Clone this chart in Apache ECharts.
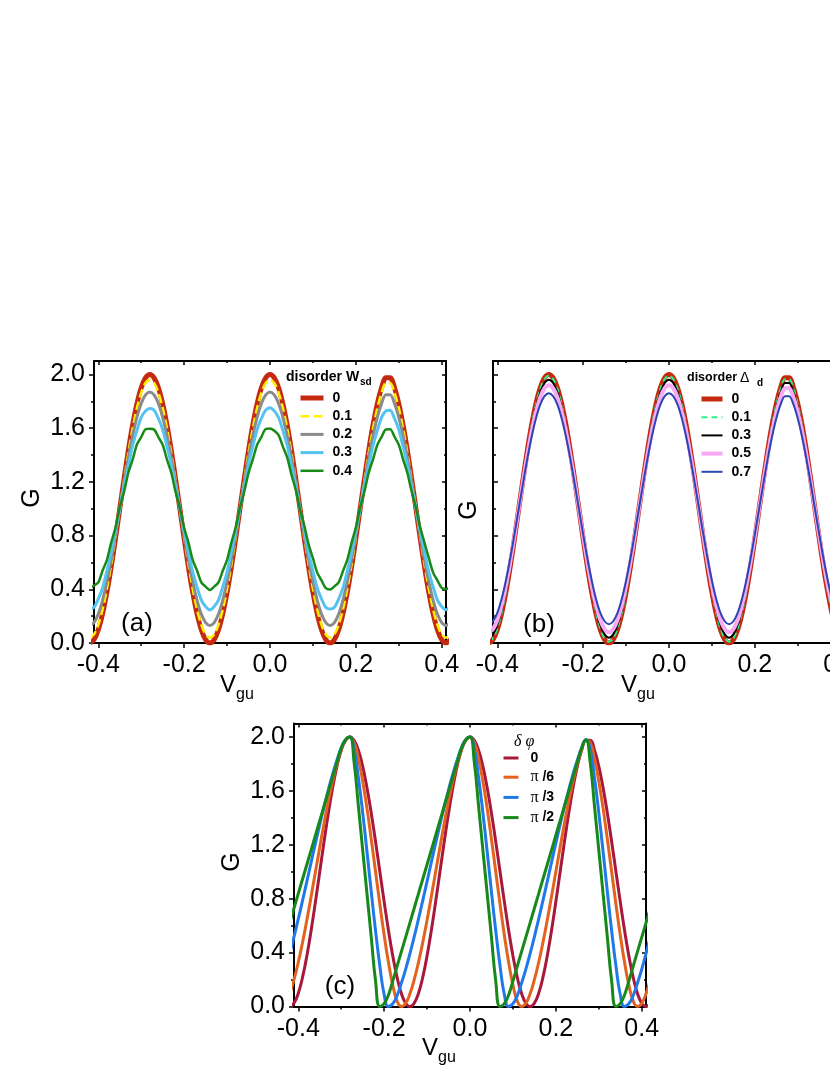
<!DOCTYPE html>
<html>
<head>
<meta charset="utf-8">
<script src="https://cdn.jsdelivr.net/npm/echarts@6/dist/echarts.min.js"></script>
<style>
  html, body { margin: 0; padding: 0; overflow: hidden; background: #fff; }
  #chart { width: 870px; height: 1075px; }
</style>
</head>
<body>
<div id="chart"></div>
<script>
  // gate voltage grid shared by every curve
  const vgu = [
    -0.42, -0.41, -0.4, -0.39, -0.38, -0.37, -0.36, -0.35, -0.34, -0.33, -0.32, -0.31, -0.3, -0.29,
    -0.28, -0.27, -0.26, -0.25, -0.24, -0.23, -0.22, -0.21, -0.2, -0.19, -0.18, -0.17, -0.16, -0.15,
    -0.14, -0.13, -0.12, -0.11, -0.1, -0.09, -0.08, -0.07, -0.06, -0.05, -0.04, -0.03, -0.02, -0.01,
    0, 0.01, 0.02, 0.03, 0.04, 0.05, 0.06, 0.07, 0.08, 0.09, 0.1, 0.11, 0.12, 0.13,
    0.14, 0.15, 0.16, 0.17, 0.18, 0.19, 0.2, 0.21, 0.22, 0.23, 0.24, 0.25, 0.26, 0.27,
    0.28, 0.29, 0.3, 0.31, 0.32, 0.33, 0.34, 0.35, 0.36, 0.37, 0.38, 0.39, 0.4, 0.41, 0.42
  ];

  const xMajor = [-0.4, -0.2, 0, 0.2, 0.4];
  const xMinor = [-0.3, -0.1, 0.1, 0.3];
  const yMajor = [0, 0.4, 0.8, 1.2, 1.6, 2.0];
  const yMinor = [0.2, 0.6, 1.0, 1.4, 1.8];

  // (a) disorder W_sd
  const namesA = ["0", "0.1", "0.2", "0.3", "0.4"];
  const gA0 = [
    0, 0.025, 0.099, 0.218, 0.377, 0.566, 0.778, 1, 1.222, 1.434, 1.623, 1.782, 1.901, 1.975,
    2, 1.975, 1.901, 1.782, 1.623, 1.434, 1.222, 1, 0.778, 0.566, 0.377, 0.218, 0.099, 0.025,
    0, 0.025, 0.099, 0.218, 0.377, 0.566, 0.778, 1, 1.222, 1.434, 1.623, 1.782, 1.901, 1.975,
    2, 1.975, 1.901, 1.782, 1.623, 1.434, 1.222, 1, 0.778, 0.566, 0.377, 0.218, 0.099, 0.025,
    0, 0.025, 0.099, 0.218, 0.377, 0.566, 0.778, 1, 1.222, 1.434, 1.623, 1.782, 1.901, 1.975,
    1.975, 1.901, 1.782, 1.623, 1.434, 1.222, 1, 0.778, 0.566, 0.377, 0.218, 0.099, 0.025, 0, 0.025
  ];
  const gA1 = [
    0.04, 0.064, 0.135, 0.249, 0.401, 0.583, 0.786, 1, 1.214, 1.417, 1.599, 1.751, 1.865, 1.936,
    1.96, 1.936, 1.865, 1.751, 1.599, 1.417, 1.214, 1, 0.786, 0.583, 0.401, 0.249, 0.135, 0.064,
    0.04, 0.064, 0.135, 0.249, 0.401, 0.583, 0.786, 1, 1.214, 1.417, 1.599, 1.751, 1.865, 1.936,
    1.96, 1.936, 1.865, 1.751, 1.599, 1.417, 1.214, 1, 0.786, 0.583, 0.401, 0.249, 0.135, 0.064,
    0.04, 0.064, 0.135, 0.249, 0.401, 0.583, 0.786, 1, 1.214, 1.417, 1.599, 1.751, 1.865, 1.936,
    1.936, 1.865, 1.751, 1.599, 1.417, 1.214, 1, 0.786, 0.583, 0.401, 0.249, 0.135, 0.064, 0.04, 0.064
  ];
  const gA2 = [
    0.13, 0.152, 0.216, 0.32, 0.458, 0.622, 0.806, 1, 1.194, 1.378, 1.542, 1.68, 1.784, 1.848,
    1.87, 1.848, 1.784, 1.68, 1.542, 1.378, 1.194, 1, 0.806, 0.622, 0.458, 0.32, 0.216, 0.152,
    0.13, 0.152, 0.216, 0.32, 0.458, 0.622, 0.806, 1, 1.194, 1.378, 1.542, 1.68, 1.784, 1.848,
    1.87, 1.848, 1.784, 1.68, 1.542, 1.378, 1.194, 1, 0.806, 0.622, 0.458, 0.32, 0.216, 0.152,
    0.13, 0.152, 0.216, 0.32, 0.458, 0.622, 0.806, 1, 1.194, 1.378, 1.542, 1.68, 1.784, 1.848,
    1.848, 1.784, 1.68, 1.542, 1.378, 1.194, 1, 0.806, 0.622, 0.458, 0.32, 0.216, 0.152, 0.13, 0.152
  ];
  const gA3 = [
    0.252, 0.266, 0.328, 0.41, 0.536, 0.67, 0.838, 0.996, 1.172, 1.32, 1.472, 1.582, 1.68, 1.728,
    1.746, 1.734, 1.672, 1.59, 1.464, 1.329, 1.163, 1.004, 0.829, 0.679, 0.528, 0.418, 0.32, 0.272,
    0.247, 0.272, 0.32, 0.418, 0.528, 0.679, 0.829, 1.004, 1.163, 1.329, 1.464, 1.59, 1.672, 1.734,
    1.752, 1.728, 1.68, 1.582, 1.472, 1.321, 1.171, 0.996, 0.837, 0.671, 0.536, 0.41, 0.328, 0.266,
    0.253, 0.266, 0.328, 0.41, 0.536, 0.671, 0.837, 0.996, 1.171, 1.321, 1.472, 1.582, 1.68, 1.728,
    1.734, 1.672, 1.59, 1.464, 1.329, 1.163, 1.004, 0.829, 0.679, 0.528, 0.418, 0.32, 0.272, 0.247, 0.272
  ];
  const gA4 = [
    0.405, 0.428, 0.452, 0.54, 0.618, 0.748, 0.858, 1.01, 1.126, 1.268, 1.366, 1.478, 1.533, 1.592,
    1.596, 1.59, 1.533, 1.476, 1.366, 1.268, 1.126, 1.008, 0.858, 0.748, 0.618, 0.54, 0.452, 0.42,
    0.395, 0.42, 0.452, 0.538, 0.62, 0.748, 0.86, 1.008, 1.128, 1.266, 1.368, 1.476, 1.535, 1.594,
    1.598, 1.58, 1.548, 1.462, 1.382, 1.254, 1.14, 0.994, 0.872, 0.734, 0.632, 0.524, 0.466, 0.408,
    0.398, 0.422, 0.452, 0.536, 0.62, 0.746, 0.86, 1.006, 1.128, 1.268, 1.368, 1.474, 1.535, 1.59,
    1.592, 1.536, 1.476, 1.368, 1.266, 1.128, 1.006, 0.86, 0.746, 0.632, 0.524, 0.466, 0.41, 0.402, 0.418
  ];

  // (b) disorder Delta_d
  const namesB = ["0", "0.1", "0.3", "0.5", "0.7"];
  const gB0 = [
    0, 0.025, 0.099, 0.218, 0.377, 0.566, 0.778, 1, 1.222, 1.434, 1.623, 1.782, 1.901, 1.975,
    2, 1.975, 1.901, 1.782, 1.623, 1.434, 1.222, 1, 0.778, 0.566, 0.377, 0.218, 0.099, 0.025,
    0, 0.025, 0.099, 0.218, 0.377, 0.566, 0.778, 1, 1.222, 1.434, 1.623, 1.782, 1.901, 1.975,
    2, 1.975, 1.901, 1.782, 1.623, 1.434, 1.222, 1, 0.778, 0.566, 0.377, 0.218, 0.099, 0.025,
    0, 0.025, 0.099, 0.218, 0.377, 0.566, 0.778, 1, 1.222, 1.434, 1.623, 1.782, 1.901, 1.975,
    1.975, 1.901, 1.782, 1.623, 1.434, 1.222, 1, 0.778, 0.566, 0.377, 0.218, 0.099, 0.025, 0, 0.025
  ];
  const gB1 = [
    0.01, 0.035, 0.108, 0.226, 0.383, 0.57, 0.78, 1, 1.22, 1.43, 1.617, 1.774, 1.892, 1.965,
    1.99, 1.965, 1.892, 1.774, 1.617, 1.43, 1.22, 1, 0.78, 0.57, 0.383, 0.226, 0.108, 0.035,
    0.01, 0.035, 0.108, 0.226, 0.383, 0.57, 0.78, 1, 1.22, 1.43, 1.617, 1.774, 1.892, 1.965,
    1.99, 1.965, 1.892, 1.774, 1.617, 1.43, 1.22, 1, 0.78, 0.57, 0.383, 0.226, 0.108, 0.035,
    0.01, 0.035, 0.108, 0.226, 0.383, 0.57, 0.78, 1, 1.22, 1.43, 1.617, 1.774, 1.892, 1.965,
    1.965, 1.892, 1.774, 1.617, 1.43, 1.22, 1, 0.78, 0.57, 0.383, 0.226, 0.108, 0.035, 0.01, 0.035
  ];
  const gB2 = [
    0.04, 0.064, 0.135, 0.249, 0.401, 0.583, 0.786, 1, 1.214, 1.417, 1.599, 1.751, 1.865, 1.936,
    1.96, 1.936, 1.865, 1.751, 1.599, 1.417, 1.214, 1, 0.786, 0.583, 0.401, 0.249, 0.135, 0.064,
    0.04, 0.064, 0.135, 0.249, 0.401, 0.583, 0.786, 1, 1.214, 1.417, 1.599, 1.751, 1.865, 1.936,
    1.96, 1.936, 1.865, 1.751, 1.599, 1.417, 1.214, 1, 0.786, 0.583, 0.401, 0.249, 0.135, 0.064,
    0.04, 0.064, 0.135, 0.249, 0.401, 0.583, 0.786, 1, 1.214, 1.417, 1.599, 1.751, 1.865, 1.936,
    1.936, 1.865, 1.751, 1.599, 1.417, 1.214, 1, 0.786, 0.583, 0.401, 0.249, 0.135, 0.064, 0.04, 0.064
  ];
  const gB3 = [
    0.08, 0.103, 0.171, 0.281, 0.426, 0.601, 0.795, 1, 1.205, 1.399, 1.574, 1.719, 1.829, 1.897,
    1.92, 1.897, 1.829, 1.719, 1.574, 1.399, 1.205, 1, 0.795, 0.601, 0.426, 0.281, 0.171, 0.103,
    0.08, 0.103, 0.171, 0.281, 0.426, 0.601, 0.795, 1, 1.205, 1.399, 1.574, 1.719, 1.829, 1.897,
    1.92, 1.897, 1.829, 1.719, 1.574, 1.399, 1.205, 1, 0.795, 0.601, 0.426, 0.281, 0.171, 0.103,
    0.08, 0.103, 0.171, 0.281, 0.426, 0.601, 0.795, 1, 1.205, 1.399, 1.574, 1.719, 1.829, 1.897,
    1.897, 1.829, 1.719, 1.574, 1.399, 1.205, 1, 0.795, 0.601, 0.426, 0.281, 0.171, 0.103, 0.08, 0.103
  ];
  const gB4 = [
    0.14, 0.162, 0.225, 0.328, 0.464, 0.627, 0.809, 1, 1.191, 1.373, 1.536, 1.672, 1.775, 1.838,
    1.86, 1.838, 1.775, 1.672, 1.536, 1.373, 1.191, 1, 0.809, 0.627, 0.464, 0.328, 0.225, 0.162,
    0.14, 0.162, 0.225, 0.328, 0.464, 0.627, 0.809, 1, 1.191, 1.373, 1.536, 1.672, 1.775, 1.838,
    1.86, 1.838, 1.775, 1.672, 1.536, 1.373, 1.191, 1, 0.809, 0.627, 0.464, 0.328, 0.225, 0.162,
    0.14, 0.162, 0.225, 0.328, 0.464, 0.627, 0.809, 1, 1.191, 1.373, 1.536, 1.672, 1.775, 1.838,
    1.838, 1.775, 1.672, 1.536, 1.373, 1.191, 1, 0.809, 0.627, 0.464, 0.328, 0.225, 0.162, 0.14, 0.162
  ];

  // (c) phase difference delta phi
  const namesC = ["0", "π /6", "π /3", "π /2"];
  const gC0 = [
    0, 0.025, 0.099, 0.218, 0.377, 0.566, 0.778, 1, 1.222, 1.434, 1.623, 1.782, 1.901, 1.975,
    2, 1.975, 1.901, 1.782, 1.623, 1.434, 1.222, 1, 0.778, 0.566, 0.377, 0.218, 0.099, 0.025,
    0, 0.025, 0.099, 0.218, 0.377, 0.566, 0.778, 1, 1.222, 1.434, 1.623, 1.782, 1.901, 1.975,
    2, 1.975, 1.901, 1.782, 1.623, 1.434, 1.222, 1, 0.778, 0.566, 0.377, 0.218, 0.099, 0.025,
    0, 0.025, 0.099, 0.218, 0.377, 0.566, 0.778, 1, 1.222, 1.434, 1.623, 1.782, 1.901, 1.975,
    1.975, 1.901, 1.782, 1.623, 1.434, 1.222, 1, 0.778, 0.566, 0.377, 0.218, 0.099, 0.025, 0, 0.025
  ];
  const gC1 = [
    0.094, 0.199, 0.328, 0.477, 0.642, 0.818, 1, 1.182, 1.358, 1.523, 1.672, 1.801, 1.906, 1.976,
    2, 1.958, 1.839, 1.672, 1.47, 1.241, 1, 0.759, 0.53, 0.328, 0.161, 0.042, 0, 0.024,
    0.094, 0.199, 0.328, 0.477, 0.642, 0.818, 1, 1.182, 1.358, 1.523, 1.672, 1.801, 1.906, 1.976,
    2, 1.958, 1.839, 1.672, 1.47, 1.241, 1, 0.759, 0.53, 0.328, 0.161, 0.042, 0, 0.024,
    0.094, 0.199, 0.328, 0.477, 0.642, 0.818, 1, 1.182, 1.358, 1.523, 1.672, 1.801, 1.906, 1.976,
    1.958, 1.839, 1.672, 1.47, 1.241, 1, 0.759, 0.53, 0.328, 0.161, 0.042, 0, 0.024, 0.094, 0.199
  ];
  const gC2 = [
    0.392, 0.517, 0.65, 0.788, 0.929, 1.071, 1.212, 1.35, 1.483, 1.608, 1.724, 1.828, 1.92, 1.98,
    2, 1.911, 1.699, 1.439, 1.15, 0.85, 0.561, 0.301, 0.089, 0, 0.02, 0.08, 0.172, 0.276,
    0.392, 0.517, 0.65, 0.788, 0.929, 1.071, 1.212, 1.35, 1.483, 1.608, 1.724, 1.828, 1.92, 1.98,
    2, 1.911, 1.699, 1.439, 1.15, 0.85, 0.561, 0.301, 0.089, 0, 0.02, 0.08, 0.172, 0.276,
    0.392, 0.517, 0.65, 0.788, 0.929, 1.071, 1.212, 1.35, 1.483, 1.608, 1.724, 1.828, 1.92, 1.98,
    1.911, 1.699, 1.439, 1.15, 0.85, 0.561, 0.301, 0.089, 0, 0.02, 0.08, 0.172, 0.276, 0.392, 0.517
  ];
  const gC3 = [
    0.621, 0.729, 0.838, 0.946, 1.054, 1.162, 1.271, 1.379, 1.487, 1.595, 1.703, 1.812, 1.914, 1.979,
    2, 1.812, 1.487, 1.162, 0.838, 0.513, 0.188, 0, 0.021, 0.086, 0.188, 0.297, 0.405, 0.513,
    0.621, 0.729, 0.838, 0.946, 1.054, 1.162, 1.271, 1.379, 1.487, 1.595, 1.703, 1.812, 1.914, 1.979,
    2, 1.812, 1.487, 1.162, 0.838, 0.513, 0.188, 0, 0.021, 0.086, 0.188, 0.297, 0.405, 0.513,
    0.621, 0.729, 0.838, 0.946, 1.054, 1.162, 1.271, 1.379, 1.487, 1.595, 1.703, 1.812, 1.914, 1.979,
    1.812, 1.487, 1.162, 0.838, 0.513, 0.188, 0, 0.021, 0.086, 0.188, 0.297, 0.405, 0.513, 0.621, 0.729
  ];

  const FONT = "'Liberation Sans', Arial, sans-serif";
  const SERIF = "'Liberation Serif', 'Times New Roman', serif";
  const BLACK = "#000";

  const grids = [
    { left: 94, top: 361, width: 352, height: 282 },
    { left: 493, top: 361, width: 352, height: 282 },
    { left: 294, top: 723.5, width: 352, height: 283 },
  ];

  const tickStyle = { color: BLACK, width: 1.5 };
  const frameLine = { show: true, onZero: false, lineStyle: { color: BLACK, width: 2 } };
  const noLine = { show: false, onZero: false };
  const labelStyle = { color: BLACK, fontSize: 25, fontFamily: FONT, formatter: (v) => v.toFixed(1) };

  // four x axes per grid: bottom major/minor (outward), top major/minor (inward)
  function makeXAxes(g) {
    const base = { type: "value", gridIndex: g, min: -0.41, max: 0.41, splitLine: { show: false } };
    return [
      { ...base, position: "bottom", axisLine: frameLine,
        axisTick: { customValues: xMajor, length: 5, lineStyle: tickStyle },
        axisLabel: { ...labelStyle, customValues: xMajor, margin: 10 } },
      { ...base, position: "bottom", axisLine: noLine,
        axisTick: { customValues: xMinor, length: 3, lineStyle: tickStyle }, axisLabel: { show: false } },
      { ...base, position: "top", axisLine: frameLine,
        axisTick: { customValues: xMajor, inside: true, length: 4, lineStyle: tickStyle }, axisLabel: { show: false } },
      { ...base, position: "top", axisLine: noLine,
        axisTick: { customValues: xMinor, inside: true, length: 2, lineStyle: tickStyle }, axisLabel: { show: false } },
    ];
  }

  function makeYAxes(g, withLabels) {
    const base = { type: "value", gridIndex: g, min: 0, max: 2.1, splitLine: { show: false } };
    return [
      { ...base, position: "left", axisLine: frameLine,
        axisTick: { customValues: yMajor, length: 5, inside: !withLabels, lineStyle: tickStyle },
        axisLabel: withLabels ? { ...labelStyle, customValues: yMajor, margin: 9 } : { show: false } },
      { ...base, position: "left", axisLine: noLine,
        axisTick: { customValues: yMinor, length: 3, inside: !withLabels, lineStyle: tickStyle }, axisLabel: { show: false } },
      { ...base, position: "right", axisLine: frameLine,
        axisTick: { customValues: yMajor, inside: true, length: 4, lineStyle: tickStyle }, axisLabel: { show: false } },
      { ...base, position: "right", axisLine: noLine,
        axisTick: { customValues: yMinor, inside: true, length: 2, lineStyle: tickStyle }, axisLabel: { show: false } },
    ];
  }

  function curve(id, g, ys, color, width, dash) {
    return {
      id,
      name: id,
      type: "line",
      xAxisIndex: g * 4,
      yAxisIndex: g * 4,
      data: vgu.map((x, i) => [x, ys[i]]),
      symbol: "none",
      smooth: g === 2 ? 0.5 : 0.3,
      silent: true,
      lineStyle: { color, width, type: dash || "solid" },
      itemStyle: { color },
    };
  }

  const series = [
    curve("a-0", 0, gA0, "#C52A0E", 5),
    curve("a-1", 0, gA1, "#FFF000", 2.5, [9, 4]),
    curve("a-2", 0, gA2, "#8A8A8A", 3),
    curve("a-3", 0, gA3, "#55C3F0", 3),
    curve("a-4", 0, gA4, "#178A17", 2.5),
    curve("b-0", 1, gB0, "#C52A0E", 5),
    curve("b-1", 1, gB1, "#2CF08C", 2, [6, 4]),
    curve("b-2", 1, gB2, "#000000", 2),
    curve("b-3", 1, gB3, "#F9A8F2", 4),
    curve("b-4", 1, gB4, "#2B45B5", 2),
    curve("c-0", 2, gC0, "#A8183C", 3),
    curve("c-1", 2, gC1, "#E2621E", 3),
    curve("c-2", 2, gC2, "#2079E8", 3),
    curve("c-3", 2, gC3, "#17881A", 3),
  ];

  function legendFor(prefix, labels, left, top, itemWidth, textPad) {
    return {
      data: labels.map((_, i) => prefix + "-" + i),
      formatter: (n) => labels[Number(n.split("-")[1])].replace("π", "{p|π}"),
      orient: "vertical",
      left,
      top,
      padding: 0,
      itemWidth,
      itemHeight: 14,
      itemGap: 4.2,
      selectedMode: false,
      itemStyle: { opacity: 0 },
      lineStyle: { width: "inherit" },
      textStyle: {
        color: BLACK, fontSize: 14, fontWeight: "bold", fontFamily: FONT, padding: [0, 0, 0, textPad],
        rich: { p: { fontFamily: SERIF, fontWeight: "normal", fontSize: 16, color: BLACK } },
      },
    };
  }

  function text(x, y, str, font, extra) {
    return {
      type: "text", x, y, silent: true, ...(extra || {}),
      style: { text: str, font, fill: BLACK, align: "left", verticalAlign: "middle",
               textAlign: "left", textVerticalAlign: "middle", ...((extra && extra.style) || {}) },
    };
  }
  const centered = { style: { align: "center", textAlign: "center" } };
  const rotated = { rotation: Math.PI / 2, style: { align: "center", textAlign: "center" } };

  const graphic = [
    // axis names
    text(32, 498, "G", "25px " + FONT, rotated),
    text(469, 510, "G", "25px " + FONT, rotated),
    text(232, 862, "G", "25px " + FONT, rotated),
    text(220, 685, "V", "24px " + FONT), text(236, 695, "gu", "16px " + FONT),
    text(621, 685, "V", "24px " + FONT), text(637, 695, "gu", "16px " + FONT),
    text(422, 1048, "V", "24px " + FONT), text(438, 1058, "gu", "16px " + FONT),
    // panel tags
    text(137, 624, "(a)", "26px " + FONT, centered),
    text(539, 625, "(b)", "26px " + FONT, centered),
    text(340, 987, "(c)", "26px " + FONT, centered),
    // legend titles
    text(286, 377, "disorder W", "bold 14px " + FONT), text(360, 382, "sd", "bold 10px " + FONT),
    text(687, 378, "disorder", "bold 12.5px " + FONT), text(740, 378, "Δ", "14px " + FONT),
    text(757, 383, "d", "bold 10px " + FONT),
    text(514, 742, "δ φ", "italic 16px " + SERIF),
  ];

  const chart = echarts.init(document.getElementById("chart"), null, { renderer: "canvas" });
  chart.setOption({
    animation: false,
    backgroundColor: "#fff",
    grid: grids,
    xAxis: [...makeXAxes(0), ...makeXAxes(1), ...makeXAxes(2)],
    yAxis: [...makeYAxes(0, true), ...makeYAxes(1, false), ...makeYAxes(2, true)],
    legend: [
      legendFor("a", namesA, 298, 391, 23, 4),
      legendFor("b", namesB, 699, 392, 21, 4),
      legendFor("c", namesC, 502, 751, 15, 7),
    ],
    graphic,
    series,
  });
</script>
</body>
</html>
